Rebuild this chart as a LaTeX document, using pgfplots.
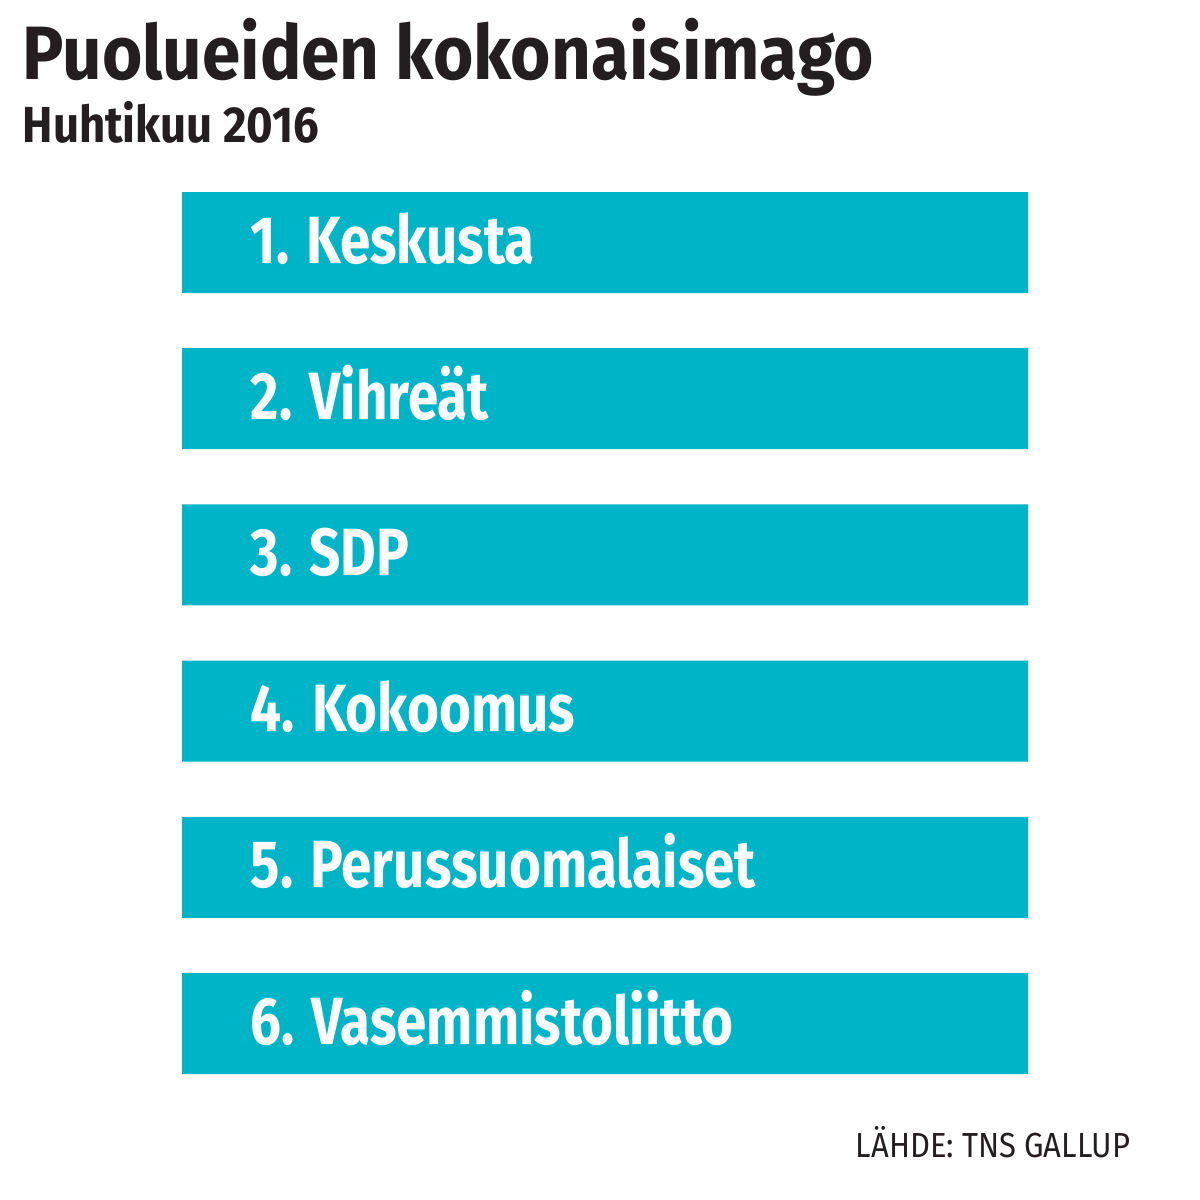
\documentclass[border=0pt]{standalone}
\usepackage{pgfplots}
\pgfplotsset{compat=1.18}
\usepackage{fontspec}
\setmainfont{Fira Sans}[FakeStretch=0.85]
\newfontfamily\titlefont{Fira Sans}[FakeStretch=0.915]
\newfontfamily\subfont{Fira Sans}[FakeStretch=0.90]
\newfontfamily\barfont{Fira Sans}[FakeStretch=0.82]
\newfontfamily\srcfont{Fira Sans}[FakeStretch=0.89]
\definecolor{barcol}{HTML}{00B4C8}
\definecolor{ink}{HTML}{231F20}
\begin{document}
\begin{tikzpicture}
\useasboundingbox[fill=white] (0,0) rectangle (12cm,12cm);
\node[anchor=base west, inner sep=0pt, text=ink] at (0.22cm,11.20cm)
  {\fontsize{21.5}{24}\titlefont\bfseries Puolueiden kokonaisimago};
\node[anchor=base west, inner sep=0pt, text=ink] at (0.22cm,10.57cm)
  {\fontsize{14.4}{17}\subfont\bfseries Huhtikuu 2016};
\node[anchor=base east, inner sep=0pt, text=ink] at (11.31cm,0.43cm)
  {\fontsize{9.9}{12}\srcfont LÄHDE: TNS GALLUP};
\begin{axis}[
    at={(1.82cm,10.356cm)}, anchor=north west,
    scale only axis,
    width=8.46cm, height=9.372cm,
    xmin=0, xmax=1,
    ymin=0.5, ymax=6.5,
    y dir=reverse,
    axis line style={draw=none},
    ticks=none,
    xbar, bar width=1.01cm, bar shift=0pt,
    clip=false,
    ]
    \addplot[fill=barcol, draw=none] coordinates {
        (1,1) (1,2) (1,3) (1,4) (1,5) (1,6)
    };
    \foreach \i/\name in {1/Keskusta, 2/Vihreät, 3/SDP, 4/Kokoomus, 5/Perussuomalaiset, 6/Vasemmistoliitto} {
        \edef\tmp{\noexpand\node[anchor=base west, inner sep=0pt, text=white, xshift=0.68cm, yshift=-0.205cm]
            at (axis cs:0,\i) {\noexpand\fontsize{19}{22}\noexpand\barfont\noexpand\bfseries \i. \name};}
        \tmp
    }
\end{axis}
\end{tikzpicture}
\end{document}
